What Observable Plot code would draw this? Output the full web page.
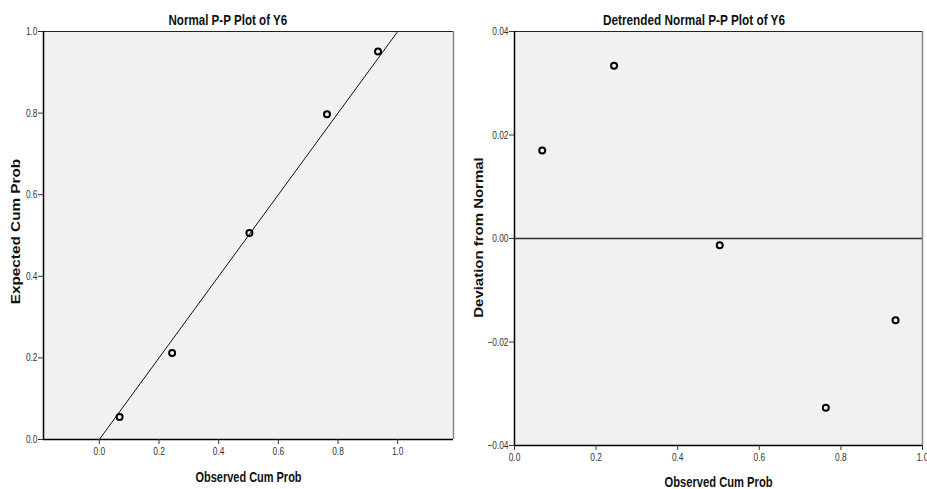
<!DOCTYPE html>
<html>
<head>
<meta charset="utf-8">
<script src="https://cdn.jsdelivr.net/npm/d3@7"></script>
<script src="https://cdn.jsdelivr.net/npm/@observablehq/plot@0.6"></script>
<style>
  html, body { margin: 0; padding: 0; background: #fff; }
  #wrap { position: relative; width: 927px; height: 489px; overflow: hidden; }
  .panel { position: absolute; top: 0; }
  .lab { position: absolute; font-family: "Liberation Sans", Arial, sans-serif; font-weight: bold; color: #111; white-space: nowrap; line-height: 1; }
</style>
</head>
<body>
<div id="wrap"></div>
<script>
// Data
const observedCumProb = [0.068, 0.244, 0.503, 0.763, 0.934];
const expectedCumProb = [0.055, 0.212, 0.506, 0.797, 0.951];
const deviationFromNormal = [0.017, 0.0334, -0.0013, -0.0327, -0.0158];
const refLineX = [0, 1];
const refLineY = [0, 1];
const ppXTicks = [0, 0.2, 0.4, 0.6, 0.8, 1.0];
const ppYTicks = [0, 0.2, 0.4, 0.6, 0.8, 1.0];
const detXTicks = [0, 0.2, 0.4, 0.6, 0.8, 1.0];
const detYTicks = [-0.04, -0.02, 0.0, 0.02, 0.04];

const ppData = observedCumProb.map((o, i) => ({obs: o, exp: expectedCumProb[i]}));
const detData = observedCumProb.map((o, i) => ({obs: o, dev: deviationFromNormal[i]}));
const refLine = refLineX.map((x, i) => ({x, y: refLineY[i]}));

const tickFont = "Liberation Sans, Arial, sans-serif";
const bg = "#f0f1f0";
const wrap = document.getElementById("wrap");

// narrow the tick labels (the reference uses a condensed face)
function narrowTicks(svg, s) {
  svg.querySelectorAll("g[aria-label$='tick label'] text").forEach(t => {
    const tr = t.getAttribute("transform") || "";
    const xa = t.getAttribute("x");
    let extra = "";
    if (xa !== null && !isNaN(+xa) && +xa !== 0) { extra = ` translate(${+xa},0)`; t.setAttribute("x", 0); }
    t.setAttribute("transform", `${tr}${extra} scale(${s},1)`);
  });
}

// label placed by centre, stretched to the reference's measured length
function addLabel(text, cx, cy, size, targetLen, rotate) {
  const d = document.createElement("div");
  d.className = "lab"; d.textContent = text;
  d.style.fontSize = size + "px";
  wrap.appendChild(d);
  const w = d.offsetWidth, h = d.offsetHeight;
  const s = targetLen / w;
  d.style.left = (cx - w / 2) + "px";
  d.style.top = (cy - h / 2) + "px";
  d.style.transformOrigin = "50% 50%";
  d.style.transform = rotate ? `rotate(-90deg) scaleX(${s})` : `scaleX(${s})`;
}

// Left: Normal P-P plot
const xDomL = [-0.187, 1.187];
const left = Plot.plot({
  width: 460, height: 489,
  marginLeft: 43, marginRight: 7, marginTop: 31, marginBottom: 50,
  style: {fontFamily: tickFont, fontSize: "11px", background: "transparent", color: "#333"},
  x: {domain: xDomL},
  y: {domain: [0, 1]},
  marks: [
    Plot.frame({fill: bg, stroke: null}),
    Plot.line(refLine, {x: "x", y: "y", stroke: "#111", strokeWidth: 1}),
    Plot.dot(ppData, {x: "obs", y: "exp", r: 3, stroke: "#000", strokeWidth: 2, fill: "none"}),
    Plot.ruleY([1], {stroke: "#222", strokeWidth: 1}),
    Plot.ruleX([xDomL[1]], {stroke: "#888", strokeWidth: 1.5}),
    Plot.ruleX([xDomL[0]], {stroke: "#000", strokeWidth: 1.5}),
    Plot.ruleY([0], {stroke: "#000", strokeWidth: 1.5}),
    Plot.axisX({ticks: ppXTicks, tickFormat: d3.format(".1f"), tickSize: 5, tickPadding: 3, label: null}),
    Plot.axisY({ticks: ppYTicks, tickFormat: d3.format(".1f"), tickSize: 5, tickPadding: 1, label: null})
  ]
});
left.classList.add("panel");
left.style.left = "0px";
narrowTicks(left, 0.76);
wrap.appendChild(left);

// Right: Detrended Normal P-P plot
const right = Plot.plot({
  width: 467, height: 489,
  marginLeft: 54, marginRight: 5, marginTop: 31, marginBottom: 44,
  style: {fontFamily: tickFont, fontSize: "11px", background: "transparent", color: "#333"},
  x: {domain: [0, 1]},
  y: {domain: [-0.04, 0.04]},
  marks: [
    Plot.frame({fill: bg, stroke: null}),
    Plot.ruleY([0], {stroke: "#333", strokeWidth: 1.5}),
    Plot.dot(detData, {x: "obs", y: "dev", r: 3, stroke: "#000", strokeWidth: 2, fill: "none"}),
    Plot.ruleY([0.04], {stroke: "#222", strokeWidth: 1}),
    Plot.ruleX([1], {stroke: "#888", strokeWidth: 1.5}),
    Plot.ruleX([0], {stroke: "#000", strokeWidth: 1.5}),
    Plot.ruleY([-0.04], {stroke: "#000", strokeWidth: 1.5}),
    Plot.axisX({ticks: detXTicks, tickFormat: d3.format(".1f"), tickSize: 5, tickPadding: 3, label: null}),
    Plot.axisY({ticks: detYTicks, tickFormat: d3.format(".2f"), tickSize: 5, tickPadding: 1, label: null})
  ]
});
right.classList.add("panel");
right.style.left = "460px";
narrowTicks(right, 0.76);
wrap.appendChild(right);

addLabel("Normal P-P Plot of Y6", 228, 19, 15, 119, false);
addLabel("Detrended Normal P-P Plot of Y6", 694, 19, 15, 182, false);
addLabel("Observed Cum Prob", 248, 476, 15, 106, false);
addLabel("Observed Cum Prob", 718, 481, 15, 108, false);
addLabel("Expected Cum Prob", 16, 231, 13, 146, true);
addLabel("Deviation from Normal", 478, 237, 13, 160, true);
</script>
</body>
</html>
